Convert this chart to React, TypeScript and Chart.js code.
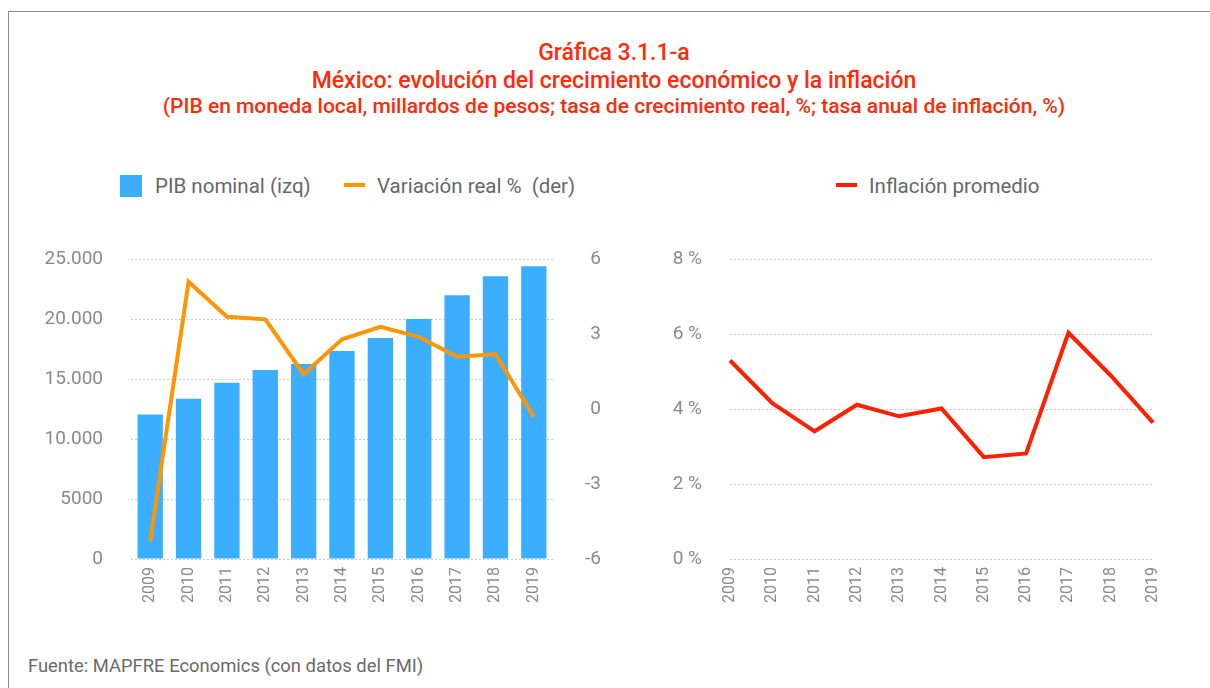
import React, { useEffect, useRef } from "react";
import { Chart, registerables } from "chart.js";

Chart.register(...registerables);

// ---- Data ----
const years = ["2009", "2010", "2011", "2012", "2013", "2014", "2015", "2016", "2017", "2018", "2019"];
const pibNominal = [12060, 13370, 14700, 15780, 16280, 17360, 18440, 20020, 22010, 23590, 24420];
const variacionReal = [-5.3, 5.1, 3.7, 3.6, 1.4, 2.8, 3.3, 2.9, 2.1, 2.2, -0.3];
const inflacion = [5.3, 4.16, 3.41, 4.12, 3.81, 4.02, 2.72, 2.82, 6.04, 4.9, 3.64];

const leftTicks = [0, 5000, 10000, 15000, 20000, 25000];
const rightTicks = [-6, -3, 0, 3, 6];
const inflTicks = [0, 2, 4, 6, 8];

const titleLines = [
  "Gráfica 3.1.1-a",
  "México: evolución del crecimiento económico y la inflación",
  "(PIB en moneda local, millardos de pesos; tasa de crecimiento real, %; tasa anual de inflación, %)",
];
const legendPib = "PIB nominal (izq)";
const legendVar = "Variación real %  (der)";
const legendInfl = "Inflación promedio";
const sourceText = "Fuente: MAPFRE Economics (con datos del FMI)";

// ---- Styles ----
const FONT = "Roboto, 'Noto Sans', sans-serif";
const BAR_COLOR = "#3caeff";
const ORANGE = "#ff9500";
const RED = "#ff2000";
const TITLE_RED = "#ff2a0a";
const TICK_COLOR = "#8a8a8a";
const LEGEND_COLOR = "#626870";
const GRID_COLOR = "#c9c9c9";

function fmtThousands(v: number): string {
  if (Math.abs(v) < 10000) return String(v);
  return String(v).replace(/\B(?=(\d{3})+(?!\d))/g, ".");
}

function LeftChart() {
  const ref = useRef<HTMLCanvasElement | null>(null);
  useEffect(() => {
    if (!ref.current) return;
    const chart = new Chart(ref.current, {
      type: "bar",
      data: {
        labels: years,
        datasets: [
          {
            type: "line",
            label: legendVar,
            data: variacionReal,
            yAxisID: "y2",
            borderColor: ORANGE,
            backgroundColor: ORANGE,
            borderWidth: 4,
            pointRadius: 0,
            tension: 0,
            borderJoinStyle: "miter",
            order: 0,
          } as any,
          {
            type: "bar",
            label: legendPib,
            data: pibNominal,
            yAxisID: "y",
            backgroundColor: BAR_COLOR,
            categoryPercentage: 1,
            barPercentage: 0.66,
            order: 1,
          } as any,
        ],
      },
      options: {
        responsive: false,
        animation: false,
        layout: { padding: { top: 0, right: 19, left: 0, bottom: 0 } },
        plugins: { legend: { display: false }, tooltip: { enabled: false } },
        scales: {
          x: {
            offset: true,
            grid: { display: false, drawTicks: false },
            border: { display: false },
            ticks: {
              minRotation: 90,
              maxRotation: 90,
              padding: 8,
              color: TICK_COLOR,
              font: { family: FONT, size: 16 },
            },
            afterFit: (s: any) => {
              s.height = 61;
            },
          },
          y: {
            position: "left",
            min: 0,
            max: 25000,
            afterBuildTicks: (s: any) => {
              s.ticks = leftTicks.map((v) => ({ value: v }));
            },
            grid: { color: GRID_COLOR, lineWidth: 1, drawTicks: false },
            border: { display: false, dash: [2, 2] },
            ticks: {
              padding: 28,
              color: TICK_COLOR,
              font: { family: FONT, size: 19 },
              callback: (v: any) => fmtThousands(Number(v)),
            },
            afterFit: (s: any) => {
              s.width = 111;
            },
          },
          y2: {
            position: "right",
            min: -6,
            max: 6,
            afterBuildTicks: (s: any) => {
              s.ticks = rightTicks.map((v) => ({ value: v }));
            },
            grid: { display: false, drawTicks: false },
            border: { display: false },
            ticks: {
              crossAlign: "far",
              padding: 0,
              color: TICK_COLOR,
              font: { family: FONT, size: 19 },
              callback: (v: any) => String(v),
            },
            afterFit: (s: any) => {
              s.width = 48;
            },
          },
        },
      } as any,
    });
    return () => chart.destroy();
  }, []);
  return (
    <canvas
      ref={ref}
      width={600}
      height={400}
      style={{ position: "absolute", left: 20, top: 220, width: 600, height: 400 }}
    />
  );
}

function RightChart() {
  const ref = useRef<HTMLCanvasElement | null>(null);
  useEffect(() => {
    if (!ref.current) return;
    const chart = new Chart(ref.current, {
      type: "line",
      data: {
        labels: years,
        datasets: [
          {
            label: legendInfl,
            data: inflacion,
            borderColor: RED,
            backgroundColor: RED,
            borderWidth: 4,
            pointRadius: 0,
            tension: 0,
            borderJoinStyle: "miter",
          } as any,
        ],
      },
      options: {
        responsive: false,
        animation: false,
        layout: { padding: { top: 0, right: 47, left: 0, bottom: 0 } },
        plugins: { legend: { display: false }, tooltip: { enabled: false } },
        scales: {
          x: {
            offset: false,
            grid: { display: false, drawTicks: false },
            border: { display: false },
            ticks: {
              minRotation: 90,
              maxRotation: 90,
              padding: 8,
              color: TICK_COLOR,
              font: { family: FONT, size: 16 },
            },
            afterFit: (s: any) => {
              s.height = 61;
            },
          },
          y: {
            position: "left",
            min: 0,
            max: 8,
            afterBuildTicks: (s: any) => {
              s.ticks = inflTicks.map((v) => ({ value: v }));
            },
            grid: { color: GRID_COLOR, lineWidth: 1, drawTicks: false },
            border: { display: false, dash: [2, 2] },
            ticks: {
              padding: 28,
              color: TICK_COLOR,
              font: { family: FONT, size: 19 },
              callback: (v: any) => `${v} %`,
            },
            afterFit: (s: any) => {
              s.width = 90;
            },
          },
        },
      } as any,
    });
    return () => chart.destroy();
  }, []);
  return (
    <canvas
      ref={ref}
      width={560}
      height={400}
      style={{ position: "absolute", left: 640, top: 220, width: 560, height: 400 }}
    />
  );
}

function LegendItem(props: { left: number; marker: "box" | "line"; color: string; text: string }) {
  const { left, marker, color, text } = props;
  return (
    <div
      style={{
        position: "absolute",
        left,
        top: 173,
        height: 26,
        display: "flex",
        alignItems: "center",
        whiteSpace: "pre",
        fontFamily: FONT,
        fontSize: 20.5,
        color: LEGEND_COLOR,
      }}
    >
      {marker === "box" ? (
        <span style={{ display: "inline-block", width: 22, height: 22, background: color, marginRight: 13 }} />
      ) : (
        <span style={{ display: "inline-block", width: 21, height: 4, background: color, marginRight: 12, marginTop: -3 }} />
      )}
      <span>{text}</span>
    </div>
  );
}

export default function App() {
  return (
    <div style={{ position: "absolute", left: 0, top: 0, width: 1210, height: 688, background: "#fff", overflow: "hidden" }}>
      <div
        style={{
          position: "absolute",
          left: 8,
          top: 11,
          width: 1210,
          height: 700,
          borderTop: "1px solid #8c8c8c",
          borderLeft: "1px solid #8c8c8c",
        }}
      />
      <div
        style={{
          position: "absolute",
          left: 0,
          width: 1228,
          top: 39,
          textAlign: "center",
          color: TITLE_RED,
          fontFamily: FONT,
          fontWeight: 500,
          whiteSpace: "nowrap",
        }}
      >
        <div style={{ fontSize: 23, lineHeight: "28px" }}>{titleLines[0]}</div>
        <div style={{ fontSize: 23, lineHeight: "28px" }}>{titleLines[1]}</div>
        <div style={{ fontSize: 21, lineHeight: "22px" }}>{titleLines[2]}</div>
      </div>
      <LegendItem left={120} marker="box" color={BAR_COLOR} text={legendPib} />
      <LegendItem left={344} marker="line" color={ORANGE} text={legendVar} />
      <LegendItem left={836} marker="line" color={RED} text={legendInfl} />
      <LeftChart />
      <RightChart />
      <div
        style={{
          position: "absolute",
          left: 28,
          top: 655,
          fontFamily: FONT,
          fontSize: 18.4,
          color: "#6a6a6a",
          whiteSpace: "pre",
        }}
      >
        {sourceText}
      </div>
    </div>
  );
}
